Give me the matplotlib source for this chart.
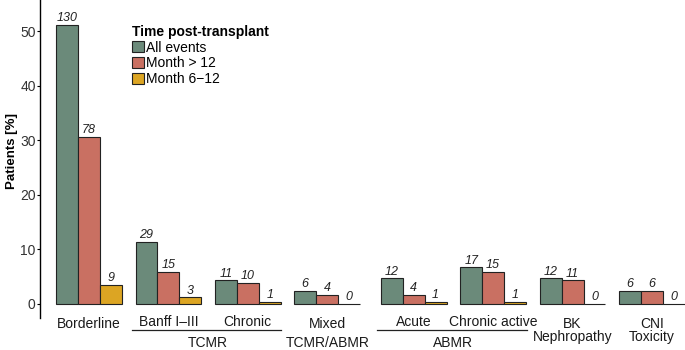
import numpy as np
import matplotlib
matplotlib.use("Agg")
import matplotlib.pyplot as plt
from matplotlib.patches import Patch
from matplotlib.transforms import blended_transform_factory

plt.rcParams['font.family'] = ['Liberation Sans', 'DejaVu Sans']

# data
categories = ['Borderline', 'Banff I\u2013III', 'Chronic', 'Mixed', 'Acute',
              'Chronic active', 'BK\nNephropathy', 'CNI\nToxicity']
groups = ['', 'TCMR', 'TCMR', 'TCMR/ABMR', 'ABMR', 'ABMR', '', '']
series = ['All events', 'Month > 12', 'Month 6\u221212']
pct_all = [51.2, 11.4, 4.3, 2.4, 4.7, 6.7, 4.7, 2.4]
pct_gt12 = [30.6, 5.9, 3.9, 1.6, 1.6, 5.9, 4.3, 2.4]
pct_6_12 = [3.5, 1.2, 0.4, 0.0, 0.4, 0.4, 0.0, 0.0]
n_all = [130, 29, 11, 6, 12, 17, 12, 6]
n_gt12 = [78, 15, 10, 4, 4, 15, 11, 6]
n_6_12 = [9, 3, 1, 0, 1, 1, 0, 0]
colors = ['#6b8a7a', '#c97062', '#dca523']

W, H = 685, 350
fig = plt.figure(figsize=(W / 100, H / 100), dpi=100)
ax = fig.add_axes([40 / W, 32 / H, 1 - 40 / W, 1 - 32 / H])

x = np.arange(len(categories)) + np.where(np.arange(len(categories)) >= 4, 0.09, 0.0)
bw = 0.276

pcts = [pct_all, pct_gt12, pct_6_12]
counts = [n_all, n_gt12, n_6_12]
for i, (p, n, c) in enumerate(zip(pcts, counts, colors)):
    xs = x + (i - 1) * bw
    ax.bar(xs, p, width=bw, color=c, edgecolor='#222222', linewidth=0.8, label=series[i])
    for xi, pi, ni in zip(xs, p, n):
        ax.annotate(str(ni), (xi, pi), xytext=(0, 2.6), textcoords='offset points',
                    ha='center', va='baseline', fontsize=9, style='italic', color='#222222')

ax.set_xlim(-0.617, 7.506)
ax.set_ylim(-2.6, 55.7)
ax.set_yticks([0, 10, 20, 30, 40, 50])
ax.tick_params(axis='y', labelsize=10, length=2.5, width=0.8, pad=0.6, labelcolor='#333333')
ax.set_xticks([])
for s in ['top', 'right', 'bottom']:
    ax.spines[s].set_visible(False)
ax.spines['left'].set_linewidth(1.0)
ax.set_ylabel('Patients [%]', fontsize=9.5, fontweight='bold')
ax.yaxis.set_label_coords(-0.034, 0.524)

# category and group labels under the bars
tr = blended_transform_factory(ax.transData, fig.transFigure)
for xi, cat, g in zip(x, categories, groups):
    ytop = 315 if g in ('TCMR', 'ABMR') else 317
    ax.text(xi, 1 - ytop / H, cat, transform=tr, ha='center', va='top',
            fontsize=10, color='#1a1a1a', linespacing=0.92, clip_on=False)

for g in ['TCMR', 'TCMR/ABMR', 'ABMR']:
    idx = [i for i, gg in enumerate(groups) if gg == g]
    xa, xb = x[idx[0]], x[idx[-1]]
    ax.text((xa + xb) / 2, 1 - 336 / H, g, transform=tr, ha='center', va='top',
            fontsize=10, color='#1a1a1a', clip_on=False)
    if len(idx) > 1:
        ax.plot([xa - 0.46, xb + 0.42], [1 - 330 / H] * 2, transform=tr,
                color='#222222', linewidth=0.9, clip_on=False)

handles = [Patch(facecolor=c, edgecolor='#222222', linewidth=0.8) for c in colors]
leg = ax.legend(handles, series, loc='upper left', bbox_to_anchor=(132 / W, 1 - 25 / H),
                bbox_transform=fig.transFigure, frameon=False, fontsize=10,
                title='Time post-transplant', title_fontproperties={'weight': 'bold', 'size': 10},
                alignment='left', handlelength=0.85, handleheight=0.85, handletextpad=0.15,
                labelspacing=0.12, borderpad=0, borderaxespad=0)

fig.savefig('out.png', dpi=100)
